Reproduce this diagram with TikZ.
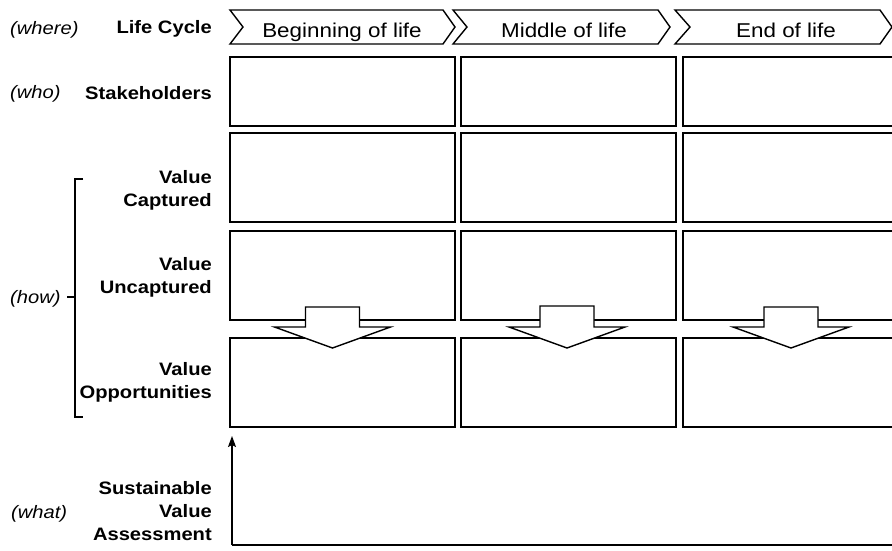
\documentclass[tikz,border=0pt]{standalone}
\usepackage{fontspec}
\setmainfont{Liberation Sans}[FakeStretch=1.12]
\usetikzlibrary{arrows.meta}

\begin{document}
\begin{tikzpicture}[x=1pt, y=-1pt,
    cell/.style 2 args={draw, line width=1.5pt, inner sep=0pt, minimum width=#1, minimum height=#2},
    phase/.style={draw, line width=1.4pt, line join=miter},
    flow/.style={draw, fill=white, line width=1.4pt, line join=miter},
    rowlabel/.style={font=\fontsize{18}{23}\selectfont\bfseries, align=right, inner sep=0pt},
    question/.style={font=\fontsize{18}{23}\selectfont\itshape, inner sep=0pt, anchor=base west},
    phasetext/.style={font=\fontsize{20}{24}\selectfont, inner sep=0pt, anchor=base}]

  \useasboundingbox (0,0) rectangle (892,550);

  % life cycle phases
  \draw[phase] (230,10) -- (443,10) -- (455,27) -- (443,44) -- (230,44) -- (243,27) -- cycle;
  \node[phasetext] (bol) at (342,37) {Beginning of life};
  \draw[phase] (453,10) -- (658,10) -- (670,27) -- (658,44) -- (453,44) -- (467,27) -- cycle;
  \node[phasetext] (mol) at (564,37) {Middle of life};
  \draw[phase] (675,10) -- (880,10) -- (892,27) -- (880,44) -- (675,44) -- (690,27) -- cycle;
  \node[phasetext] (eol) at (786,37) {End of life};

  % grid of boxes
  \node[cell={225pt}{69pt}] (s1) at (342.5,91.5) {};
  \node[cell={215pt}{69pt}] (s2) at (568.5,91.5) {};
  \node[cell={218pt}{69pt}] (s3) at (792,91.5) {};

  \node[cell={225pt}{89pt}] (c1) at (342.5,177.5) {};
  \node[cell={215pt}{89pt}] (c2) at (568.5,177.5) {};
  \node[cell={218pt}{89pt}] (c3) at (792,177.5) {};

  \node[cell={225pt}{89pt}] (u1) at (342.5,275.5) {};
  \node[cell={215pt}{89pt}] (u2) at (568.5,275.5) {};
  \node[cell={218pt}{89pt}] (u3) at (792,275.5) {};

  \node[cell={225pt}{89pt}] (o1) at (342.5,382.5) {};
  \node[cell={215pt}{89pt}] (o2) at (568.5,382.5) {};
  \node[cell={218pt}{89pt}] (o3) at (792,382.5) {};

  % uncaptured -> opportunities
  \draw[flow] (332.5,307) ++(-27,0) -- ++(54,0) -- ++(0,20) -- ++(31,0) -- ++(-58,21) -- ++(-58,-21) -- ++(31,0) -- cycle;
  \draw[flow] (567,306) ++(-27,0) -- ++(54,0) -- ++(0,21) -- ++(31,0) -- ++(-58,21) -- ++(-58,-21) -- ++(31,0) -- cycle;
  \draw[flow] (791,307) ++(-27,0) -- ++(54,0) -- ++(0,20) -- ++(31,0) -- ++(-58,21) -- ++(-58,-21) -- ++(31,0) -- cycle;

  % row labels
  \node[rowlabel, anchor=base east] (lcl) at (212,33) {Life Cycle};
  \node[rowlabel, anchor=base east] (shl) at (212,99) {Stakeholders};
  \node[rowlabel, anchor=east] (vcl) at (212,190) {Value\\Captured};
  \node[rowlabel, anchor=east] (vul) at (212,277) {Value\\Uncaptured};
  \node[rowlabel, anchor=east] (vol) at (212,382) {Value\\Opportunities};
  \node[rowlabel, anchor=east] (sva) at (212,511.5) {Sustainable\\Value\\Assessment};

  \node[question] (where) at (10,34) {(where)};
  \node[question] (who) at (10,98) {(who)};
  \node[question] (how) at (10,303) {(how)};
  \node[question] (what) at (11,518) {(what)};

  % bracket for (how)
  \draw[line width=1.4pt] (83,179) -- (75,179) -- (75,417) -- (83,417);
  \draw[line width=1.4pt] (67,297) -- (75,297);

  % assessment axes
  \coordinate (orig) at (232,545);
  \coordinate (ytop) at (232,436);
  \coordinate (xend) at (892,545);
  \draw[line width=1.2pt, -{Stealth[length=11pt, width=8pt, inset=2pt]}] (orig) -- (ytop);
  \draw[line width=1.2pt] (orig) -- (xend);

\end{tikzpicture}
\end{document}
